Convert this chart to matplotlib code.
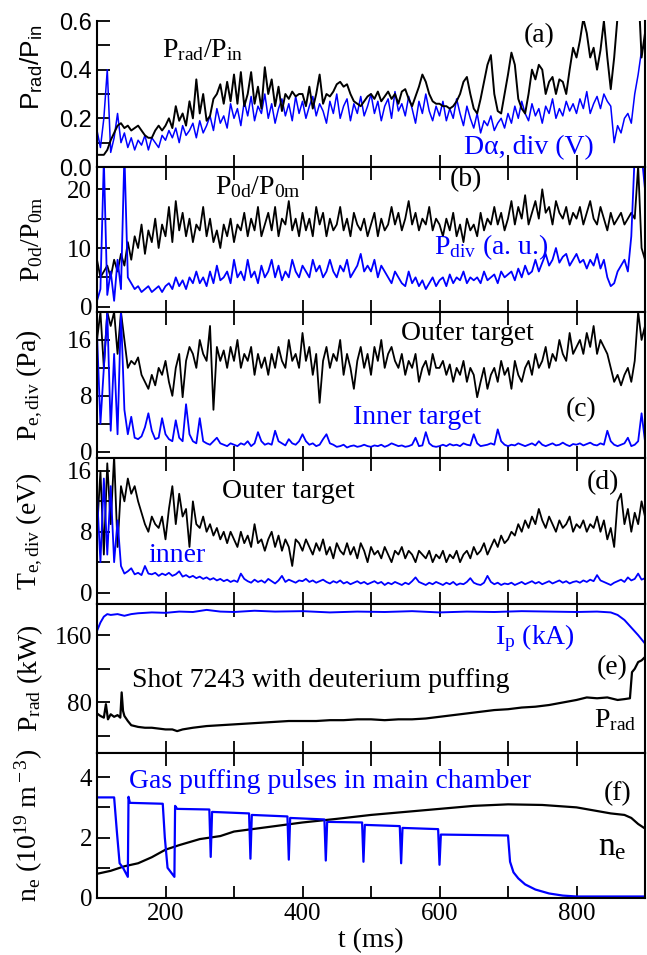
import numpy as np
import matplotlib
matplotlib.use('Agg')
import matplotlib.pyplot as plt
from matplotlib.ticker import MultipleLocator, FixedLocator, FormatStrFormatter, NullFormatter

plt.rcParams['font.family'] = 'Liberation Serif'
plt.rcParams['mathtext.fontset'] = 'custom'
plt.rcParams['mathtext.rm'] = 'Liberation Serif'
plt.rcParams['mathtext.it'] = 'Liberation Serif:italic'
plt.rcParams['mathtext.sf'] = 'Liberation Sans'

BLUE = '#0000ff'

# time grid of the noisy traces (ms), one value every 5 ms
t5 = np.arange(100, 901, 5)

# (a) Prad/Pin and D-alpha (divertor)
prad_pin = [0.05, 0.05, 0.05, 0.07, 0.11, 0.14, 0.17, 0.18, 0.16, 0.17, 0.15, 0.16, 0.17, 0.15, 0.13, 0.12, 0.12, 0.15, 0.17, 0.15,
            0.17, 0.20, 0.16, 0.25, 0.19, 0.22, 0.17, 0.27, 0.20, 0.36, 0.22, 0.30, 0.19, 0.21, 0.28, 0.30, 0.34, 0.26, 0.35, 0.27,
            0.38, 0.26, 0.39, 0.25, 0.30, 0.39, 0.26, 0.33, 0.24, 0.41, 0.30, 0.36, 0.25, 0.33, 0.23, 0.30, 0.28, 0.31, 0.29, 0.30,
            0.30, 0.25, 0.33, 0.24, 0.30, 0.38, 0.26, 0.30, 0.29, 0.31, 0.34, 0.35, 0.33, 0.34, 0.30, 0.27, 0.26, 0.25, 0.27, 0.29,
            0.30, 0.28, 0.31, 0.27, 0.29, 0.31, 0.28, 0.30, 0.26, 0.31, 0.32, 0.28, 0.25, 0.29, 0.33, 0.38, 0.35, 0.30, 0.27, 0.26,
            0.26, 0.25, 0.25, 0.24, 0.25, 0.27, 0.30, 0.35, 0.37, 0.30, 0.24, 0.22, 0.28, 0.35, 0.42, 0.46, 0.30, 0.23, 0.22, 0.30,
            0.38, 0.47, 0.42, 0.28, 0.24, 0.22, 0.30, 0.40, 0.36, 0.42, 0.40, 0.30, 0.35, 0.37, 0.30, 0.36, 0.35, 0.30, 0.40, 0.49,
            0.45, 0.52, 0.61, 0.55, 0.45, 0.49, 0.40, 0.48, 0.60, 0.45, 0.32, 0.45, 0.62, 0.75, 0.80, 0.80, 0.80, 0.80, 0.75, 0.45,
            0.55]
dalpha = [0.15, 0.08, 0.20, 0.40, 0.06, 0.12, 0.22, 0.10, 0.14, 0.08, 0.12, 0.07, 0.11, 0.09, 0.13, 0.07, 0.12, 0.10, 0.08, 0.13,
          0.11, 0.15, 0.12, 0.16, 0.10, 0.17, 0.13, 0.15, 0.18, 0.12, 0.19, 0.14, 0.17, 0.21, 0.15, 0.24, 0.18, 0.21, 0.16, 0.26,
          0.20, 0.24, 0.17, 0.27, 0.21, 0.29, 0.19, 0.25, 0.22, 0.30, 0.20, 0.26, 0.18, 0.24, 0.28, 0.21, 0.26, 0.19, 0.29, 0.22,
          0.27, 0.20, 0.25, 0.29, 0.21, 0.26, 0.23, 0.18, 0.27, 0.22, 0.30, 0.20, 0.25, 0.28, 0.19, 0.26, 0.22, 0.29, 0.21, 0.25,
          0.30, 0.22, 0.27, 0.19, 0.25, 0.28, 0.20, 0.31, 0.23, 0.26, 0.21, 0.29, 0.24, 0.18, 0.27, 0.22, 0.30, 0.23, 0.19, 0.25,
          0.21, 0.27, 0.19, 0.24, 0.20, 0.28, 0.22, 0.17, 0.25, 0.20, 0.16, 0.22, 0.14, 0.19, 0.17, 0.21, 0.15, 0.18, 0.20, 0.16,
          0.22, 0.18, 0.25, 0.20, 0.27, 0.22, 0.19, 0.26, 0.21, 0.24, 0.18, 0.25, 0.22, 0.28, 0.20, 0.24, 0.21, 0.27, 0.23, 0.26,
          0.22, 0.28, 0.24, 0.31, 0.22, 0.26, 0.29, 0.24, 0.30, 0.27, 0.25, 0.10, 0.17, 0.14, 0.20, 0.22, 0.18, 0.30, 0.38, 0.48,
          0.50]

# (b) neutral pressure ratio and divertor pressure
p0d_p0m = [8, 5, 6, 7, 5, 8, 6, 9, 7, 11, 8, 12, 10, 14, 9, 13, 11, 15, 10, 14,
           12, 17, 11, 18, 13, 16, 12, 15, 11, 14, 13, 17, 12, 15, 11, 13, 10, 14, 12, 15,
           11, 14, 13, 16, 12, 15, 13, 17, 12, 14, 16, 13, 17, 12, 15, 14, 18, 13, 15, 12,
           16, 13, 15, 12, 17, 14, 16, 12, 15, 13, 14, 17, 13, 15, 12, 16, 14, 13, 15, 12,
           14, 16, 12, 15, 13, 14, 17, 14, 16, 13, 15, 18, 14, 16, 13, 15, 14, 17, 13, 15,
           14, 12, 15, 13, 16, 12, 14, 11, 15, 13, 14, 12, 16, 13, 15, 14, 17, 14, 16, 13,
           15, 18, 14, 17, 15, 19, 14, 16, 18, 15, 20, 16, 17, 14, 18, 16, 15, 17, 14, 16,
           15, 17, 14, 16, 18, 15, 14, 17, 15, 13, 16, 14, 15, 16, 14, 15, 16, 15, 24, 10,
           8]
p_div = [1, 3, 25, 2, 6, 1, 8, 3, 26, 5, 4, 3, 3.5, 2.5, 3, 3.5, 2.5, 3, 3.5, 2.5,
         3.5, 4, 3, 5, 3.5, 4.5, 3, 5, 4, 6, 4, 5, 3.5, 6, 4, 7, 4.5, 5, 6, 4,
         8, 5, 6, 4.5, 8, 5, 6, 4, 7, 5, 6, 8, 5, 7, 4.5, 6, 5, 8, 6, 5,
         7, 6, 5, 8, 6, 7, 5, 6, 8, 6, 5, 7, 6, 8, 5, 6, 7, 9, 6, 7,
         6, 8, 5, 7, 6, 5, 4, 6, 5, 4, 3.5, 6, 4, 5, 3.5, 4.5, 3, 4, 5, 3.5,
         4.5, 5, 3.5, 5.5, 4, 5, 4.5, 6, 4, 5, 4.5, 5, 4, 6, 4.5, 5, 5.5, 4, 6, 5,
         5.5, 6, 4.5, 6.5, 5, 7, 5.5, 6, 8, 6, 7.5, 9, 7, 8, 10, 7.5, 8.5, 9, 7, 8,
         9, 7.5, 8, 6.5, 8, 7, 9, 6.5, 8, 5, 3.5, 4, 6, 7, 8, 6, 12, 26, 26, 26,
         20]

# (c) electron pressure at divertor targets (Pa)
pe_outer = [16, 20, 12, 20, 18, 20, 14, 20, 16, 12, 13, 12.5, 13.5, 11, 10, 9, 11, 9.5, 12, 11,
            13, 10, 8, 12, 14, 7.8, 13, 15, 14, 12, 16, 14, 13, 18, 6, 15, 13, 14.5, 12, 15,
            13, 16, 12, 14, 13, 15, 11, 14, 12, 13.5, 11, 14, 12, 15, 13, 12, 16, 13, 14, 12,
            17, 13, 15, 11, 14, 7, 13, 15, 12, 14, 13, 16, 11, 14, 12, 9, 13, 15, 12, 14,
            11, 15, 13, 16, 12, 14, 15, 13, 12, 14, 11, 13, 12, 14, 10, 12, 13, 11, 14, 12,
            12, 13, 11, 12.5, 10, 12, 11, 13, 10, 12, 11, 7.8, 10, 12, 9, 11, 12, 10, 13, 11,
            12, 9, 13, 11, 10, 12, 13, 11, 14, 12, 13, 15, 12, 14, 13, 16, 14, 13, 17, 14,
            15, 16, 14, 17, 15, 18, 14, 16, 15, 14, 12, 10, 11, 9.5, 11, 12, 10, 13, 20, 16,
            18]
pe_inner = [17, 4, 12, 20, 3, 14, 2.5, 20, 6, 2.5, 5, 2, 1.8, 2.2, 3.5, 5.5, 3, 1.8, 2.0, 4.8,
            2.5, 1.8, 1.5, 4.5, 2, 1.5, 6.8, 2.5, 1.5, 1.2, 4.8, 1.5, 1.2, 1.0, 1.5, 2.0, 1.2, 1.0, 0.8, 1.2,
            1.0, 0.8, 1.2, 1.0, 1.5, 0.8, 1.2, 2.8, 1.5, 1.0, 1.2, 1.0, 3.0, 1.5, 1.2, 0.9, 1.8, 1.2, 1.0, 1.5,
            2.5, 1.5, 1.0, 1.2, 0.8, 1.0, 1.8, 2.5, 1.2, 1.0, 0.7, 0.8, 1.0, 0.6, 0.8, 0.9, 0.7, 0.8, 1.0, 0.8,
            0.7, 0.9, 0.8, 1.0, 0.7, 0.9, 1.2, 1.0, 0.8, 0.9, 0.7, 0.8, 1.0, 2.0, 0.8, 0.9, 2.8, 1.2, 0.8, 0.7,
            0.8, 1.0, 0.8, 1.1, 0.9, 1.0, 0.8, 1.2, 1.0, 0.9, 2.5, 1.2, 0.8, 0.9, 1.0, 1.2, 1.0, 3.2, 1.5, 1.0,
            0.8, 1.0, 0.9, 1.2, 1.0, 0.8, 1.0, 1.2, 0.9, 1.5, 1.0, 0.8, 1.0, 1.2, 0.9, 1.0, 1.3, 1.0, 0.8, 1.1,
            1.0, 1.2, 0.9, 1.1, 1.3, 1.0, 0.9, 1.2, 1.0, 3.0, 1.5, 1.0, 0.8, 1.0, 1.2, 2.0, 0.8, 1.0, 1.5, 5.5,
            1.5]

# (d) electron temperature at divertor targets (eV)
te_outer = [8, 16, 5, 17, 9, 18, 6, 14, 12, 15, 13, 14, 12, 10.5, 9, 8, 10, 9, 8.5, 10,
            7, 11, 14, 9, 13, 10, 11, 6, 12, 9, 8.5, 10, 8, 9, 7.5, 8.5, 7, 8, 6.5, 8,
            7, 6, 8, 6.5, 7.5, 6, 9, 6.5, 7, 5.5, 7, 8, 6, 7.5, 5.5, 7, 6, 3.5, 7, 6.5,
            5.5, 7, 6, 5, 6.5, 5.5, 7, 5, 6, 4.5, 6.5, 5.5, 5, 6.5, 5, 6, 4.5, 6.5, 5.5, 4,
            6, 5, 5.5, 4.5, 6, 5, 4, 5.5, 5, 6, 4.5, 5.5, 5, 4, 5.5, 5, 4.5, 5.5, 4, 5,
            4.5, 5.5, 4, 5, 4.5, 5.5, 4, 5, 5.5, 4.5, 6, 5, 5.5, 6.5, 5, 6, 7, 6, 7.5, 6.5,
            7, 8, 7.5, 9, 8, 9.5, 8.5, 10, 9, 11, 9.5, 8.5, 10, 9, 8, 9.5, 8.5, 9, 10, 8,
            9, 8.5, 9.5, 8, 9, 8.5, 10, 8, 9.5, 7, 8.5, 6, 12, 13, 9, 11, 8, 10.5, 9, 12,
            10]
te_inner = [13, 4, 15, 5, 14, 4, 9.5, 3.5, 2.5, 2.8, 3.2, 2.4, 2.6, 2.3, 3.5, 2.5, 2.4, 2.6, 2.2, 2.5,
            2.3, 2.6, 2.2, 2.4, 2.8, 2.1, 2.3, 2.0, 2.2, 1.9, 2.1, 1.8, 2.0, 1.7, 1.9, 1.6, 1.8, 1.5, 1.7, 1.4,
            1.6, 1.4, 2.5, 1.8, 1.5, 1.3, 1.7, 1.4, 1.6, 1.3, 1.8, 1.5, 1.2, 1.6, 2.2, 1.4, 1.7, 1.5, 1.3, 1.6,
            1.5, 1.8, 1.4, 1.6, 1.3, 1.5, 1.7, 1.4, 1.2, 1.5, 1.3, 1.6, 1.2, 1.4, 1.1, 1.3, 1.5, 1.2, 1.4, 1.1,
            1.3, 1.5, 1.2, 1.4, 1.0, 1.3, 1.1, 1.4, 1.2, 1.0, 1.3, 1.1, 1.5, 2.0, 1.4, 1.2, 1.0, 1.3, 1.1, 1.4,
            1.2, 1.0, 1.3, 1.1, 1.4, 1.0, 1.2, 1.1, 1.4, 1.9, 1.3, 1.1, 1.0, 1.3, 2.2, 1.4, 1.1, 1.3, 1.0, 1.2,
            1.1, 1.3, 1.0, 1.2, 1.4, 1.1, 1.3, 1.5, 1.2, 1.4, 1.1, 1.3, 1.5, 1.2, 1.4, 1.6, 1.3, 1.5, 1.2, 1.4,
            1.5, 1.3, 1.6, 1.4, 1.7, 1.5, 2.3, 1.6, 1.4, 1.2, 1.0, 1.3, 1.5, 1.7, 1.4, 2.0, 1.6, 1.8, 2.5, 1.7,
            1.9]

# (e) plasma current and radiated power
ip_t = [100, 105, 110, 115, 120, 130, 140, 150, 160, 180, 200, 220, 240, 260, 280, 300, 330, 360, 400, 440,
        480, 520, 560, 600, 640, 680, 720, 760, 800, 830, 850, 860, 870, 880, 890, 900]
ip_v = [165, 175, 182, 185, 184, 185, 183, 185, 186, 187, 186.5, 188, 187.5, 190, 188, 187.5, 189, 188, 188.5, 187,
        188, 187.5, 188.5, 187, 188, 187.5, 188.5, 188, 187.5, 188, 187, 184, 178, 169, 160, 150]
prad_t = [100, 105, 110, 113, 116, 120, 125, 130, 134, 136, 138, 140, 145, 150, 160, 170, 180, 190, 200, 210,
          217, 225, 240, 260, 280, 300, 320, 340, 360, 380, 400, 420, 440, 460, 480, 500, 520, 540, 560, 580,
          600, 620, 640, 660, 680, 700, 720, 740, 760, 780, 800, 815, 830, 845, 860, 870, 878, 881, 885, 890,
          895, 900]
prad_v = [67, 64, 62, 78, 60, 66, 63, 65, 62, 92, 70, 64, 58, 53, 51, 50, 50, 49, 48, 48,
          46, 48, 50, 52, 53, 54, 55, 56, 57, 58, 58, 58, 59, 59, 60, 60, 59, 60, 60, 61,
          63, 65, 67, 69, 71, 72, 74, 75, 77, 80, 83, 86, 85, 86, 83, 84, 85, 116, 120, 128,
          130, 134]

# (f) gas puffing waveform and line averaged density
gas_t = [100, 125, 129, 133, 138, 145, 146, 148, 196, 199, 203, 213, 214, 217, 264, 266, 268, 322, 324, 326,
         378, 380, 382, 432, 434, 436, 487, 489, 491, 542, 544, 546, 598, 600, 602, 700, 703, 708, 715, 725,
         740, 760, 780, 800, 900]
gas_v = [3.33, 3.33, 2.2, 1.15, 1.0, 0.7, 3.35, 3.15, 3.12, 2.0, 1.0, 0.7, 3.05, 2.95, 2.93, 1.36, 2.85, 2.8, 1.3, 2.75,
         2.7, 1.27, 2.65, 2.6, 1.24, 2.52, 2.5, 1.2, 2.42, 2.38, 1.15, 2.32, 2.28, 1.1, 2.1, 2.07, 1.2, 0.85, 0.65, 0.45,
         0.28, 0.15, 0.08, 0.05, 0.05]
ne_t = [100, 120, 140, 150, 160, 180, 200, 220, 250, 280, 300, 350, 400, 450, 500, 550, 600, 650, 700, 750,
        800, 850, 870, 880, 890, 900]
ne_v = [0.8, 0.9, 1.05, 1.1, 1.15, 1.35, 1.6, 1.75, 1.95, 2.05, 2.2, 2.35, 2.5, 2.62, 2.75, 2.85, 2.95, 3.05, 3.1, 3.08,
        3.0, 2.8, 2.75, 2.65, 2.45, 2.3]

fig = plt.figure(figsize=(6.47, 9.55), dpi=100)
left, width = 97 / 647, 548 / 647
edges = [21, 167, 312, 458, 604, 753, 898]  # pixel rows of the panel borders
axes = []
for i in range(6):
    top, bot = edges[i], edges[i + 1]
    ax = fig.add_axes([left, 1 - bot / 955, width, (bot - top) / 955])
    axes.append(ax)
ax_a, ax_b, ax_c, ax_d, ax_e, ax_f = axes

for ax in axes:
    ax.set_xlim(100, 900)
    ax.xaxis.set_major_locator(MultipleLocator(200))
    ax.xaxis.set_minor_locator(MultipleLocator(100))
    ax.tick_params(which='both', direction='in', length=9, width=1.3, top=True, right=False,
                   labelsize=18)
    for s in ax.spines.values():
        s.set_linewidth(1.5)
    if ax is not ax_f:
        ax.xaxis.set_major_formatter(NullFormatter())
ax_a.spines['top'].set_visible(False)
ax_a.tick_params(which='both', top=False)

lw = 1.3
# (a)
ax_a.plot(t5, dalpha, color=BLUE, lw=1.1)
ax_a.plot(t5, prad_pin, color='black', lw=1.4)
ax_a.set_ylim(0, 0.6)
ax_a.yaxis.set_major_locator(FixedLocator([0, 0.2, 0.4, 0.6]))
ax_a.yaxis.set_major_formatter(FormatStrFormatter('%.1f'))
ax_a.yaxis.set_minor_locator(MultipleLocator(0.1))
for lab in ax_a.get_yticklabels():
    lab.set_family('Liberation Sans')
    lab.set_fontsize(17)
ax_a.set_ylabel(r'P$_{\mathsf{rad}}$/P$_{\mathsf{in}}$', family='Liberation Sans', fontsize=19)
ax_a.text(254, 0.48, r'P$_{\rm rad}$/P$_{\rm in}$', fontsize=20, ha='center', va='center')
ax_a.text(746, 0.54, '(a)', fontsize=20, ha='center', va='center')
ax_a.text(731, 0.08, 'Dα, div (V)', fontsize=20, color=BLUE, ha='center', va='center')

# (b)
ax_b.plot(t5, p0d_p0m, color='black', lw=lw)
ax_b.plot(t5, p_div, color=BLUE, lw=lw)
ax_b.set_ylim(-0.9, 23.8)
ax_b.yaxis.set_major_locator(FixedLocator([0, 10, 20]))
ax_b.yaxis.set_minor_locator(MultipleLocator(5))
ax_b.set_ylabel(r'P$_{\rm 0d}$/P$_{\rm 0m}$', fontsize=20)
ax_b.text(335, 20.4, r'P$_{\rm 0d}$/P$_{\rm 0m}$', fontsize=20, ha='center', va='center')
ax_b.text(639, 21.6, '(b)', fontsize=20, ha='center', va='center')
ax_b.text(676, 10.1, r'P$_{\rm div}$ (a. u.)', fontsize=20, color=BLUE, ha='center', va='center')

# (c)
ax_c.plot(t5, pe_outer, color='black', lw=lw)
ax_c.plot(t5, pe_inner, color=BLUE, lw=lw)
ax_c.set_ylim(-0.9, 20)
ax_c.yaxis.set_major_locator(FixedLocator([0, 8, 16]))
ax_c.yaxis.set_minor_locator(MultipleLocator(4))
ax_c.set_ylabel(r'P$_{\rm e,div}$ (Pa)', fontsize=20)
ax_c.text(641, 16.9, 'Outer target', fontsize=20, ha='center', va='center')
ax_c.text(807, 6.0, '(c)', fontsize=20, ha='center', va='center')
ax_c.text(568, 4.9, 'Inner target', fontsize=20, color=BLUE, ha='center', va='center')

# (d)
ax_d.plot(t5, te_outer, color='black', lw=lw)
ax_d.plot(t5, te_inner, color=BLUE, lw=lw)
ax_d.set_ylim(-1.5, 17.7)
ax_d.yaxis.set_major_locator(FixedLocator([0, 8, 16]))
ax_d.yaxis.set_minor_locator(MultipleLocator(4))
ax_d.set_ylabel(r'T$_{\rm e,div}$ (eV)', fontsize=20)
ax_d.text(380, 13.3, 'Outer target', fontsize=20, ha='center', va='center')
ax_d.text(838, 14.4, '(d)', fontsize=20, ha='center', va='center')
ax_d.text(217, 4.9, 'inner', fontsize=20, color=BLUE, ha='center', va='center')

# (e)
ax_e.plot(ip_t, ip_v, color=BLUE, lw=1.4)
ax_e.plot(prad_t, prad_v, color='black', lw=1.6)
ax_e.set_ylim(20, 197)
ax_e.yaxis.set_major_locator(FixedLocator([80, 160]))
ax_e.yaxis.set_minor_locator(FixedLocator([40, 120]))
ax_e.set_ylabel(r'P$_{\rm rad}$ (kW)', fontsize=20)
ax_e.text(740, 156, r'I$_{\rm p}$ (kA)', fontsize=20, color=BLUE, ha='center', va='center')
ax_e.text(427, 106, 'Shot 7243 with deuterium puffing', fontsize=20, ha='center', va='center')
ax_e.text(852, 122, '(e)', fontsize=20, ha='center', va='center')
ax_e.text(826, 59, r'P$_{\rm rad}$', fontsize=20, ha='left', va='center')

# (f)
ax_f.plot(ne_t, ne_v, color='black', lw=1.6)
ax_f.plot(gas_t, gas_v, color=BLUE, lw=1.6)
ax_f.set_ylim(0, 4.8)
ax_f.yaxis.set_major_locator(FixedLocator([0, 2, 4]))
ax_f.yaxis.set_minor_locator(MultipleLocator(1))
ax_f.set_ylabel(r'n$_{\rm e}$ (10$^{\rm 19}$ m$^{\rm -3}$)', fontsize=20)
ax_f.set_xlabel('t (ms)', fontsize=20, labelpad=2)
ax_f.text(440, 3.85, 'Gas puffing pulses in main chamber', fontsize=20, color=BLUE, ha='center', va='center')
ax_f.text(860, 3.45, '(f)', fontsize=20, ha='center', va='center')
ax_f.text(832, 1.7, r'n$_{\rm e}$', fontsize=24, ha='left', va='center')

for ax in axes:
    ax.yaxis.set_label_coords(-0.095, 0.5)
ax_a.yaxis.set_label_coords(-0.095, 0.68)

fig.savefig('out.png', dpi=100)
